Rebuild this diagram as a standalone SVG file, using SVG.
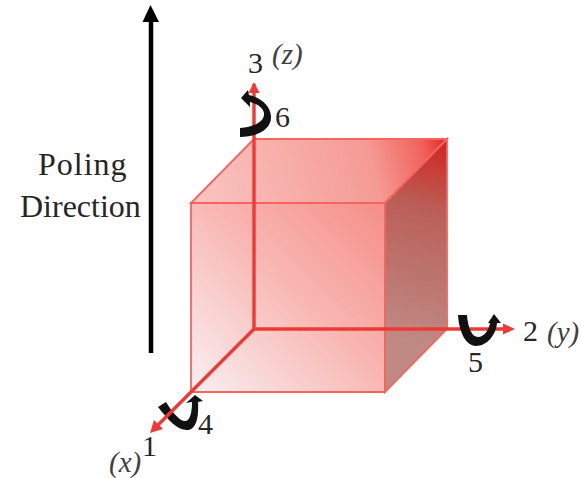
<svg xmlns="http://www.w3.org/2000/svg" width="581" height="478" viewBox="0 0 581 478">
<style>
.t{font-family:"Liberation Serif","Times New Roman",serif;font-size:30px;fill:#262626}
.p{font-size:32px}
.i{font-style:italic;font-size:29px;fill:#404040}
.e{stroke:#f4655f;stroke-width:1.8;stroke-linejoin:miter}
.ax{stroke:#ee3a35;stroke-width:3.4;fill:none}
.tw{fill:#111}
</style>
<defs>
<linearGradient id="front" gradientUnits="userSpaceOnUse" x1="191" y1="392" x2="385" y2="203"><stop offset="0" stop-color="#f9f0f1"/><stop offset="0.55" stop-color="#f8b5b1"/><stop offset="1" stop-color="#f58e88"/></linearGradient>
<linearGradient id="top" gradientUnits="userSpaceOnUse" x1="191" y1="203" x2="447" y2="139"><stop offset="0" stop-color="#f9c6c3"/><stop offset="0.7" stop-color="#f59a94"/><stop offset="0.9" stop-color="#f0635c"/><stop offset="1" stop-color="#e0261f"/></linearGradient>
<linearGradient id="side" gradientUnits="userSpaceOnUse" x1="447" y1="139" x2="400" y2="340"><stop offset="0" stop-color="#d3231c"/><stop offset="0.35" stop-color="#ba5f58"/><stop offset="1" stop-color="#bf8a84"/></linearGradient>
</defs>
<g id="poling-arrow"><path d="M151 353V18" stroke="#000" stroke-width="4.500"/><path d="M142.500 22L150.500 5L159 22Z" fill="#000"/></g>
<g id="cube">
<path class="e" d="M191 392H385V203H191Z" fill="url(#front)"/>
<path class="e" d="M191 203L254 139H447L385 203Z" fill="url(#top)"/>
<path class="e" d="M385 203L447 139V329L385 392Z" fill="url(#side)"/>
<path class="e" d="M191 392L254 329H447" fill="none" opacity="0.6"/>
</g>
<g id="twist-4"><path class="tw" d="M158 407C168 420 178 431 188 430C196 429 199 418 198 402L203 401L195 395L186 403L192 402C192 412 190 420 186 421C180 422 172 412 166 402Z"/></g>
<g id="connectors">
<path class="ax" d="M254 329V84"/><path d="M248.500 93L254 82L259.500 93Z" fill="#ee3a35"/>
<path class="ax" d="M254 329H505"/><path d="M503 323.500L515 329L503 334.500Z" fill="#ee3a35"/>
<path class="ax" d="M254 329L157 426"/><path d="M150 433L154 420L163 429Z" fill="#ee3a35"/>
</g>
<g id="twist-6"><path class="tw" d="M240 128C254 127 265 122 264 113C263 108 258 104 250 102L250 107L241 98L248 90L249 95C262 98 270 106 271 116C272 129 258 137 240 137Z"/></g>
<g id="twist-5"><path class="tw" d="M458 315C459 332 466 346 476 346C487 346 496 335 497 323L501 323L494 314L488 323L490 323C489 330 484 337 478 337C472 337 468 328 467 315Z"/></g>
<g id="labels">
<text class="t p" x="38" y="175" letter-spacing="1">Poling</text>
<text class="t p" x="20" y="217">Direction</text>
<text class="t" x="248" y="73">3</text>
<text class="t i" x="272" y="64">(z)</text>
<text class="t" x="275" y="127">6</text>
<text class="t" x="523" y="341">2</text>
<text class="t i" x="547" y="342">(y)</text>
<text class="t" x="468" y="372">5</text>
<text class="t" x="198" y="434">4</text>
<text class="t" x="142" y="456">1</text>
<text class="t i" x="109" y="472">(x)</text>
</g>
</svg>
